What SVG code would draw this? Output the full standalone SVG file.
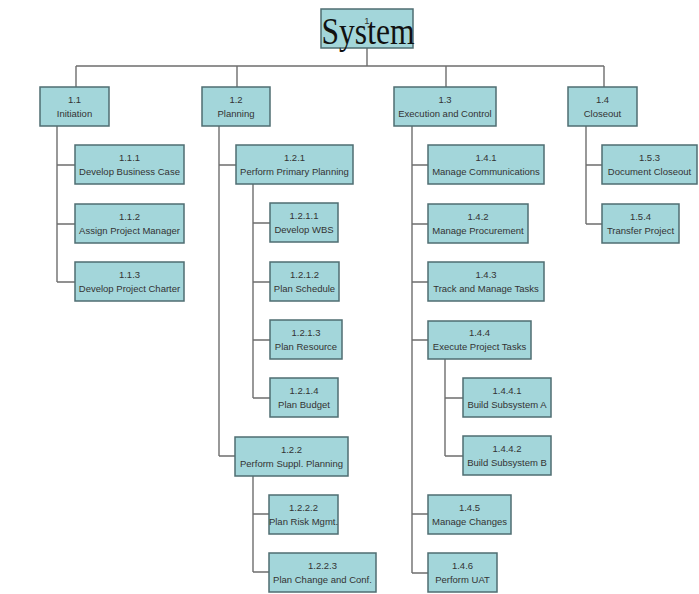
<svg xmlns="http://www.w3.org/2000/svg" width="699" height="594" viewBox="0 0 699 594">
<style>
.box{fill:#a3d6da;stroke:#4f6d72;stroke-width:1.5}
.t{font-family:"Liberation Sans",Arial,sans-serif;font-size:9.5px;fill:#333;text-anchor:middle}
.c{fill:none;stroke:#6e6e6e;stroke-width:1.4}
.big{font-family:"Liberation Serif","Times New Roman",serif;font-size:37px;fill:#111;text-anchor:middle}
</style>
<rect width="699" height="594" fill="#fff"/>
<g id="connectors" class="c">
<path d="M367 48V66M76 66H604M76 66V87M237 66V87M446 66V87M604 66V87"/>
<path d="M57 126V282M57 165H75M57 224H75M57 282H75"/>
<path d="M219 126V456M219 165H236M219 456H235"/>
<path d="M253 184V398M253 223H270M253 282H270M253 340H270M253 398H270"/>
<path d="M253 476V572M253 514H269M253 572H269"/>
<path d="M412 126V573M412 165H428M412 224H428M412 282H428M412 340H428M412 514H428M412 573H428"/>
<path d="M445 359V456M445 398H463M445 456H463"/>
<path d="M586 126V224M586 165H602M586 224H602"/>
</g>
<g id="n1"><rect class="box" x="321" y="9" width="92" height="39"/><text class="t" x="367" y="24">1</text><text class="big" x="368" y="44" textLength="93" lengthAdjust="spacingAndGlyphs">System</text></g>
<g id="n1.1"><rect class="box" x="40" y="87" width="69" height="39"/><text class="t" x="74.5" y="103">1.1</text><text class="t" x="74.5" y="117">Initiation</text></g>
<g id="n1.1.1"><rect class="box" x="75" y="145" width="109" height="39"/><text class="t" x="129.5" y="161">1.1.1</text><text class="t" x="129.5" y="175">Develop Business Case</text></g>
<g id="n1.1.2"><rect class="box" x="75" y="204" width="109" height="39"/><text class="t" x="129.5" y="220">1.1.2</text><text class="t" x="129.5" y="234">Assign Project Manager</text></g>
<g id="n1.1.3"><rect class="box" x="75" y="262" width="109" height="39"/><text class="t" x="129.5" y="278">1.1.3</text><text class="t" x="129.5" y="292">Develop Project Charter</text></g>
<g id="n1.2"><rect class="box" x="202" y="87" width="68" height="39"/><text class="t" x="236" y="103">1.2</text><text class="t" x="236" y="117">Planning</text></g>
<g id="n1.2.1"><rect class="box" x="236" y="145" width="117" height="39"/><text class="t" x="294.5" y="161">1.2.1</text><text class="t" x="294.5" y="175">Perform Primary Planning</text></g>
<g id="n1.2.1.1"><rect class="box" x="270" y="203" width="68" height="39"/><text class="t" x="304" y="219">1.2.1.1</text><text class="t" x="304" y="233">Develop WBS</text></g>
<g id="n1.2.1.2"><rect class="box" x="270" y="262" width="69" height="39"/><text class="t" x="304.5" y="278">1.2.1.2</text><text class="t" x="304.5" y="292">Plan Schedule</text></g>
<g id="n1.2.1.3"><rect class="box" x="270" y="320" width="72" height="39"/><text class="t" x="306" y="336">1.2.1.3</text><text class="t" x="306" y="350">Plan Resource</text></g>
<g id="n1.2.1.4"><rect class="box" x="270" y="378" width="68" height="39"/><text class="t" x="304" y="394">1.2.1.4</text><text class="t" x="304" y="408">Plan Budget</text></g>
<g id="n1.2.2"><rect class="box" x="235" y="437" width="113" height="39"/><text class="t" x="291.5" y="453">1.2.2</text><text class="t" x="291.5" y="467">Perform Suppl. Planning</text></g>
<g id="n1.2.2.2"><rect class="box" x="269" y="495" width="69" height="39"/><text class="t" x="303.5" y="511">1.2.2.2</text><text class="t" x="303.5" y="525">Plan Risk Mgmt.</text></g>
<g id="n1.2.2.3"><rect class="box" x="269" y="553" width="107" height="39"/><text class="t" x="322.5" y="569">1.2.2.3</text><text class="t" x="322.5" y="583">Plan Change and Conf.</text></g>
<g id="n1.3"><rect class="box" x="394" y="87" width="102" height="39"/><text class="t" x="445" y="103">1.3</text><text class="t" x="445" y="117">Execution and Control</text></g>
<g id="n1.4.1"><rect class="box" x="428" y="145" width="116" height="39"/><text class="t" x="486" y="161">1.4.1</text><text class="t" x="486" y="175">Manage Communications</text></g>
<g id="n1.4.2"><rect class="box" x="428" y="204" width="100" height="39"/><text class="t" x="478" y="220">1.4.2</text><text class="t" x="478" y="234">Manage Procurement</text></g>
<g id="n1.4.3"><rect class="box" x="428" y="262" width="116" height="39"/><text class="t" x="486" y="278">1.4.3</text><text class="t" x="486" y="292">Track and Manage Tasks</text></g>
<g id="n1.4.4"><rect class="box" x="428" y="321" width="103" height="38"/><text class="t" x="479.5" y="336">1.4.4</text><text class="t" x="479.5" y="350">Execute Project Tasks</text></g>
<g id="n1.4.4.1"><rect class="box" x="463" y="378" width="88" height="39"/><text class="t" x="507" y="394">1.4.4.1</text><text class="t" x="507" y="408">Build Subsystem A</text></g>
<g id="n1.4.4.2"><rect class="box" x="463" y="436" width="88" height="39"/><text class="t" x="507" y="452">1.4.4.2</text><text class="t" x="507" y="466">Build Subsystem B</text></g>
<g id="n1.4.5"><rect class="box" x="428" y="495" width="83" height="39"/><text class="t" x="469.5" y="511">1.4.5</text><text class="t" x="469.5" y="525">Manage Changes</text></g>
<g id="n1.4.6"><rect class="box" x="428" y="553" width="69" height="39"/><text class="t" x="462.5" y="569">1.4.6</text><text class="t" x="462.5" y="583">Perform UAT</text></g>
<g id="n1.4"><rect class="box" x="568" y="87" width="69" height="39"/><text class="t" x="602.5" y="103">1.4</text><text class="t" x="602.5" y="117">Closeout</text></g>
<g id="n1.5.3"><rect class="box" x="602" y="145" width="95" height="39"/><text class="t" x="649.5" y="161">1.5.3</text><text class="t" x="649.5" y="175">Document Closeout</text></g>
<g id="n1.5.4"><rect class="box" x="602" y="204" width="77" height="39"/><text class="t" x="640.5" y="220">1.5.4</text><text class="t" x="640.5" y="234">Transfer Project</text></g>
</svg>
